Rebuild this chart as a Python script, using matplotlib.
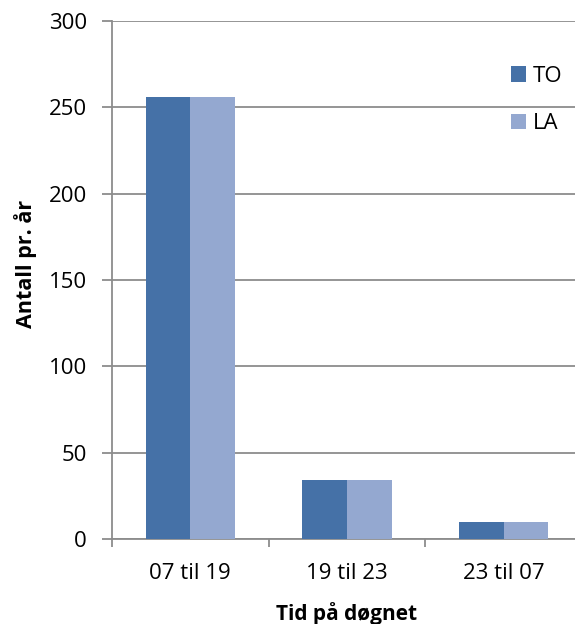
import matplotlib
matplotlib.use("Agg")
import matplotlib.pyplot as plt
import numpy as np

# Antall pr. år fordelt på tid på døgnet
PERIODER = ["07 til 19", "19 til 23", "23 til 07"]
TO = [256, 34, 10]
LA = [256, 34, 10]

FARGE_TO = "#4571a7"
FARGE_LA = "#94a8d0"
GRID = "#8c8c8c"

plt.rcParams["font.family"] = ["Open Sans", "DejaVu Sans"]

fig = plt.figure(figsize=(5.75, 6.24), dpi=100)
ax = fig.add_axes([0.1948, 0.1362, 0.8174, 0.8301])

x = np.arange(len(PERIODER))
w = 0.286
ax.bar(x - w / 2, TO, width=w, color=FARGE_TO, label="TO", zorder=3)
ax.bar(x + w / 2, LA, width=w, color=FARGE_LA, label="LA", zorder=3)

ax.set_xlim(-0.5, len(PERIODER) - 0.5)
ax.set_ylim(0, 300)
ax.set_yticks(range(0, 301, 50))
ax.yaxis.grid(True, color=GRID, linewidth=1.3, zorder=0)

ax.set_xticks(x)
ax.set_xticklabels(PERIODER, fontsize=16)
ax.set_xticks(np.arange(-0.5, len(PERIODER)), minor=True)
ax.tick_params(axis="x", which="major", length=0, pad=17)
ax.tick_params(axis="x", which="minor", length=6, color=GRID, width=1.3)
ax.tick_params(axis="y", length=7, color=GRID, width=1.3, labelsize=16, pad=11)

for side in ["top", "right"]:
    ax.spines[side].set_visible(False)
for side in ["left", "bottom"]:
    ax.spines[side].set_color(GRID)
    ax.spines[side].set_linewidth(1.3)

ax.set_ylabel("Antall pr. år", fontsize=15.5, fontweight="bold")
ax.yaxis.set_label_coords(-0.159, 0.532)
ax.set_xlabel("Tid på døgnet", fontsize=15, fontweight="bold", labelpad=13)

ax.legend(loc="upper left", bbox_to_anchor=(0.826, 0.935), frameon=False,
          fontsize=16, handlelength=0.68, handleheight=0.68, handletextpad=0.27,
          labelspacing=1.2, borderpad=0)

fig.savefig("out.png", dpi=100)
